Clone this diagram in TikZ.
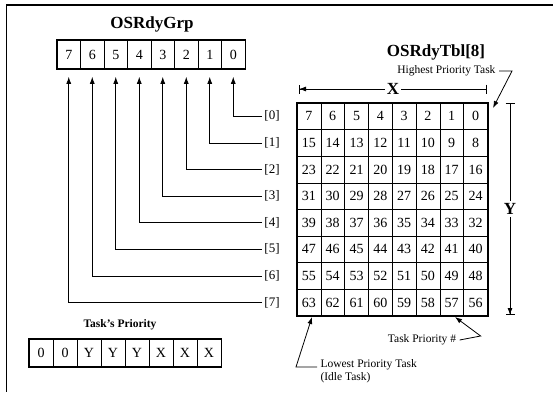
\documentclass[tikz,border=0pt]{standalone}
\usepackage{fontspec}
\setmainfont{Liberation Serif}
\usetikzlibrary{arrows.meta,positioning}
\newcommand{\fsz}[1]{\fontsize{#1}{#1}\selectfont}

\begin{document}
\begin{tikzpicture}[x=1pt, y=-1pt,
  cell/.style={draw, line width=0.6pt, inner sep=0pt, minimum width=23.8pt, minimum height=26.6pt, font=\fsz{14}},
  bitcell/.style={cell, minimum width=23.5pt, minimum height=28pt},
  rowlbl/.style={inner sep=2pt, font=\fsz{13}},
  title/.style={font=\bfseries\fsz{17}},
  note/.style={font=\fontsize{11.5}{12.5}\selectfont},
  arr/.style={-{Latex[length=7pt,width=5pt]}, line width=0.8pt}]
  \useasboundingbox (0,0) rectangle (553,392);
  \draw[line width=2pt] (6,5) -- (553,5);
  \draw[line width=1pt] (6,5) -- (6,392);

  % OSRdyGrp
  \node[title] (grptitle) at (152,24) {OSRdyGrp};
  \foreach \b in {0,...,7}
    \node[bitcell] (g\b) at ({57+23.5*(7-\b)+11.75},54.5) {\b};
  \draw[line width=1.6pt] (g7.north west) rectangle (g0.south east);

  % OSRdyTbl[8]
  \node[title] (tbltitle) at (436,52) {OSRdyTbl[8]};
  \foreach \r in {0,...,7} {
    \foreach \c in {0,...,7} {
      \pgfmathtruncatemacro{\prio}{8*\r+7-\c}
      \node[cell] (t\r\c) at ({297+23.8*\c+11.9},{103+26.6*\r+13.3}) {\prio};
    }
  }
  \draw[line width=1.6pt] (t00.north west) rectangle (t77.south east);

  % row labels
  \foreach \i in {0,...,7} {
    \node[rowlbl] (L\i) at (272,{103+26.6*\i+13.3}) {[\i]};
    \draw[arr, shorten >=8pt] (L\i.west) -| (g\i.south);
  }

  % X and Y
  \coordinate (xl) at (299,89);
  \coordinate (xr) at (487,89);
  \draw[line width=0.8pt, {Bar[width=9pt]}-{Bar[width=9pt]}] (xl) -- (xr);
  \draw[line width=0.8pt, {Latex[length=7pt,width=5pt]}-] (xl) -- node[fill=white, inner sep=2pt, font=\bfseries\fsz{17}] (xlbl) {X} (xr);
  \coordinate (yt) at (510,103);
  \coordinate (yb) at (510,315);
  \draw[line width=0.8pt, {Bar[width=9pt]}-{Bar[width=9pt]}] (yt) -- (yb);
  \draw[arr] (yt) -- node[fill=white, inner sep=2pt, font=\bfseries\fsz{17}] (ylbl) {Y} (yb);

  % notes
  \node[note, anchor=east] (hpt) at (499,71) {Highest Priority Task};
  \coordinate (hptip) at (493,108);
  \draw[arr] (hpt.east) -- ++(13,0) -- (hptip);
  \node[note] (tpn) at (422,340) {Task Priority \#};
  \coordinate (tptip) at (455,317);
  \draw[arr] (tpn.east) -- ++(21,-4) -- (tptip);
  \node[note, align=left, anchor=north west] (lpt) at (317,356) {Lowest Priority Task\\(Idle Task)};
  \coordinate (lptip) at (312,317);
  \draw[arr] (lpt.north west) ++(0,11) -- ++(-21,0) -- (lptip);

  % task's priority
  \node[font=\bfseries\fsz{11.5}] (tptitle) at (120,325) {Task's Priority};
  \foreach \s [count=\k from 0] in {0,0,Y,Y,Y,X,X,X}
    \node[cell, minimum width=24pt, minimum height=27pt] (p\k) at ({29+24*\k+12},353) {\s};
  \draw[line width=1.6pt] (p0.north west) rectangle (p7.south east);
\end{tikzpicture}
\end{document}
